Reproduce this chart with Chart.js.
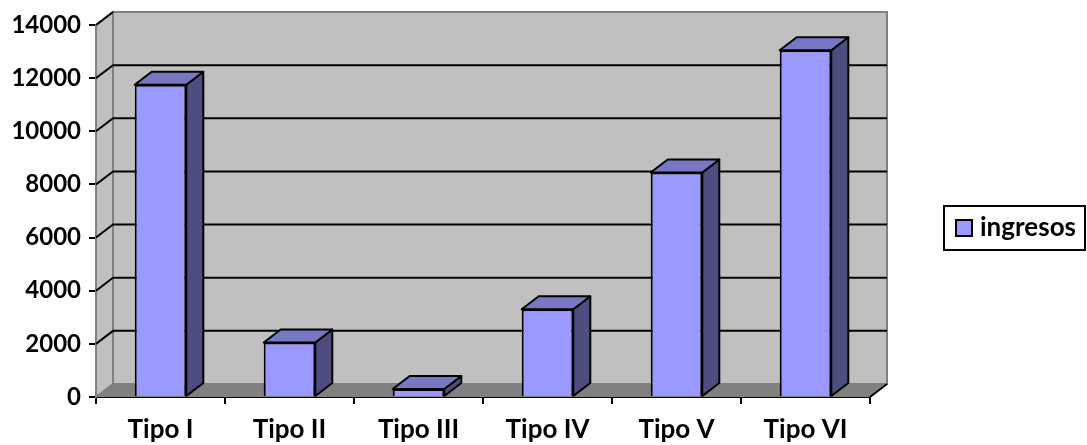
<!DOCTYPE html>
<html>
<head>
<meta charset="utf-8">
<script src="https://cdn.jsdelivr.net/npm/chart.js@4"></script>
<style>
  html, body { margin: 0; padding: 0; background: #fff; }
  #wrap { width: 1087px; height: 445px; }
</style>
</head>
<body>
<div id="wrap"><canvas id="chart"></canvas></div>
<script>
const categories = ['Tipo I', 'Tipo II', 'Tipo III', 'Tipo IV', 'Tipo V', 'Tipo VI'];
const ingresos = [11750, 2050, 300, 3300, 8450, 13050];
const seriesName = 'ingresos';
const yTicks = [0, 2000, 4000, 6000, 8000, 10000, 12000, 14000];

const DX = 17, DY = 13; // depth offset of the 3d look
const FONT = 'Lato, "Liberation Sans", sans-serif';

// walls, floor and gridlines behind the bars
const backdrop = {
    id: 'backdrop',
    beforeDatasetsDraw(chart) {
        const c = chart.ctx, a = chart.chartArea, y = chart.scales.y;
        c.save();
        // back wall
        c.fillStyle = '#c0c0c0';
        c.fillRect(a.left + DX, a.top - DY, a.right - a.left, a.bottom - a.top);
        // left side wall
        c.beginPath();
        c.moveTo(a.left, a.top);
        c.lineTo(a.left + DX, a.top - DY);
        c.lineTo(a.left + DX, a.bottom - DY);
        c.lineTo(a.left, a.bottom);
        c.closePath();
        c.fill();
        c.strokeStyle = '#808080';
        c.lineWidth = 2;
        c.stroke();
        c.strokeRect(a.left + DX, a.top - DY, a.right - a.left, a.bottom - a.top);
        // floor
        c.fillStyle = '#808080';
        c.beginPath();
        c.moveTo(a.left, a.bottom);
        c.lineTo(a.left + DX, a.bottom - DY);
        c.lineTo(a.right + DX, a.bottom - DY);
        c.lineTo(a.right, a.bottom);
        c.closePath();
        c.fill();
        // gridlines
        c.strokeStyle = '#000';
        c.lineWidth = 2;
        yTicks.forEach(v => {
            if (v === 0 || v === 14000) return;
            const py = y.getPixelForValue(v);
            c.beginPath();
            c.moveTo(a.left, py);
            c.lineTo(a.left + DX, py - DY);
            c.lineTo(a.right + DX, py - DY);
            c.stroke();
        });
        // top diagonal and bottom right diagonal
        c.beginPath();
        c.moveTo(a.left, a.top);
        c.lineTo(a.left + DX, a.top - DY);
        c.moveTo(a.right, a.bottom);
        c.lineTo(a.right + DX, a.bottom - DY);
        c.stroke();
        c.restore();
    },
    afterDatasetsDraw(chart) {
        const c = chart.ctx;
        c.save();
        c.strokeStyle = '#000';
        c.lineWidth = 2;
        c.lineJoin = 'round';
        chart.getDatasetMeta(0).data.forEach(bar => {
            const l = bar.x - bar.width / 2, r = bar.x + bar.width / 2;
            const t = bar.y, b = bar.base;
            // side
            c.fillStyle = '#4d4d80';
            c.beginPath();
            c.moveTo(r, t);
            c.lineTo(r + DX, t - DY);
            c.lineTo(r + DX, b - DY);
            c.lineTo(r, b);
            c.closePath();
            c.fill();
            c.stroke();
            // top
            c.fillStyle = '#7777c4';
            c.beginPath();
            c.moveTo(l, t);
            c.lineTo(l + DX, t - DY);
            c.lineTo(r + DX, t - DY);
            c.lineTo(r, t);
            c.closePath();
            c.fill();
            c.stroke();
        });
        c.restore();
    },
    afterDraw(chart) {
        // legend box
        const c = chart.ctx;
        c.save();
        c.fillStyle = '#fff';
        c.fillRect(944, 206, 141, 44);
        c.strokeStyle = '#000';
        c.lineWidth = 2;
        c.strokeRect(944, 206, 141, 44);
        c.fillStyle = '#9999ff';
        c.fillRect(956, 220, 16, 16);
        c.strokeRect(956, 220, 16, 16);
        c.fillStyle = '#000';
        c.font = 'bold 26px ' + FONT;
        c.textBaseline = 'middle';
        c.fillText(seriesName, 980, 228);
        c.restore();
    }
};

const ctx = document.querySelector('#chart').getContext('2d');
const chart = new Chart(ctx, {
    type: 'bar',
    data: {
        labels: categories,
        datasets: [{
            label: seriesName,
            data: ingresos,
            backgroundColor: '#9999ff',
            borderColor: '#000',
            borderWidth: 2,
            barPercentage: 0.4,
            categoryPercentage: 1
        }]
    },
    options: {
        responsive: true,
        maintainAspectRatio: false,
        animation: false,
        layout: { padding: { top: 25, right: 217, left: 0, bottom: 0 } },
        plugins: { legend: { display: false }, tooltip: { enabled: false } },
        scales: {
            x: {
                grid: { drawOnChartArea: false, tickLength: 7, color: '#000', lineWidth: 2 },
                border: { color: '#000', width: 2 },
                ticks: { color: '#000', font: { family: FONT, size: 26, weight: 'bold' }, padding: 10 },
                afterFit(s) { s.height = 48; }
            },
            y: {
                min: 0,
                max: 14000,
                grid: { drawOnChartArea: false, tickLength: 7, color: '#000', lineWidth: 2 },
                border: { color: '#000', width: 2 },
                ticks: {
                    stepSize: 2000,
                    color: '#000',
                    font: { family: FONT, size: 24, weight: 'bold' },
                    padding: 8,
                    callback: v => String(v)
                },
                afterFit(s) { s.width = 96; }
            }
        }
    },
    plugins: [backdrop]
});
</script>
</body>
</html>
